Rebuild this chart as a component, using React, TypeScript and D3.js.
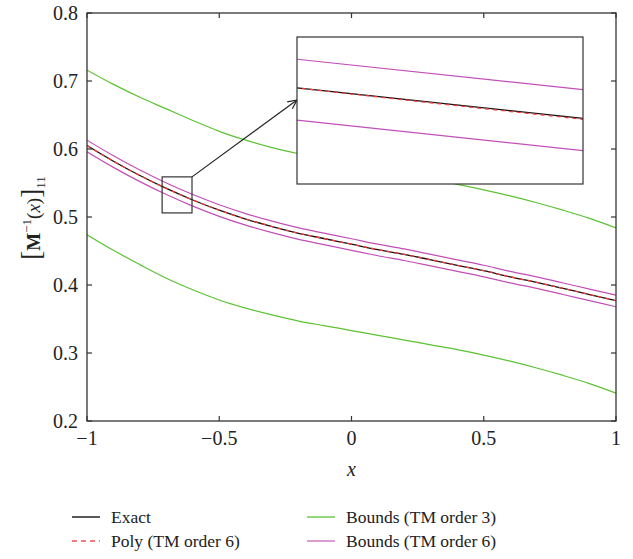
import React from "react";
import * as d3 from "d3";

const xs = [-1, -0.9, -0.8, -0.7, -0.6, -0.5, -0.4, -0.3, -0.2, -0.1, 0, 0.1, 0.2, 0.3, 0.4, 0.5, 0.6, 0.7, 0.8, 0.9, 1];
const exact = [0.605, 0.582, 0.561, 0.542, 0.525, 0.510, 0.497, 0.486, 0.476, 0.468, 0.460, 0.452, 0.445, 0.437, 0.429, 0.421, 0.412, 0.404, 0.395, 0.386, 0.377];
const poly6 = [0.605, 0.582, 0.561, 0.542, 0.525, 0.510, 0.497, 0.486, 0.476, 0.468, 0.460, 0.452, 0.445, 0.437, 0.429, 0.421, 0.412, 0.404, 0.395, 0.386, 0.377];
const tm3Upper = [0.716, 0.695, 0.676, 0.659, 0.642, 0.626, 0.613, 0.602, 0.593, 0.585, 0.577, 0.569, 0.562, 0.555, 0.548, 0.540, 0.531, 0.521, 0.510, 0.498, 0.484];
const tm3Lower = [0.474, 0.451, 0.430, 0.410, 0.393, 0.378, 0.366, 0.356, 0.347, 0.340, 0.333, 0.326, 0.319, 0.312, 0.305, 0.297, 0.288, 0.278, 0.267, 0.255, 0.241];
const tm6Upper = [0.613, 0.590, 0.569, 0.550, 0.533, 0.518, 0.505, 0.494, 0.484, 0.476, 0.468, 0.460, 0.453, 0.445, 0.437, 0.429, 0.420, 0.412, 0.403, 0.394, 0.385];
const tm6Lower = [0.596, 0.573, 0.552, 0.533, 0.516, 0.501, 0.488, 0.477, 0.467, 0.459, 0.451, 0.443, 0.436, 0.428, 0.420, 0.412, 0.403, 0.395, 0.386, 0.377, 0.368];

const xTicks = [-1, -0.5, 0, 0.5, 1];
const xTickLabels = ["\u22121", "\u22120.5", "0", "0.5", "1"];
const yTicks = [0.2, 0.3, 0.4, 0.5, 0.6, 0.7, 0.8];
const yTickLabels = ["0.2", "0.3", "0.4", "0.5", "0.6", "0.7", "0.8"];

// zoom box (data coords) and inset view domains
const boxX = [-0.716, -0.603];
const boxY = [0.506, 0.559];
const insetXDomain = [-0.70, -0.65];
const insetYDomain = [0.5152, 0.5562];

const legendItems = [
  { label: "Exact", color: "#000000", dash: "" },
  { label: "Poly (TM order 6)", color: "#f25050", dash: "5,4" },
  { label: "Bounds (TM order 3)", color: "#5cc233", dash: "" },
  { label: "Bounds (TM order 6)", color: "#c866bd", dash: "" },
];

const FONT = "'Liberation Serif', 'Times New Roman', serif";
const AX = "#333333";
const GREEN = "#5cc233";
const MAGENTA = "#c24fb8";
const RED = "#f23a3a";

export default function App() {
  const W = 633, H = 559;
  const L = 87, R = 616, T = 13, B = 421;
  const x = d3.scaleLinear().domain([-1, 1]).range([L, R]);
  const y = d3.scaleLinear().domain([0.2, 0.8]).range([B, T]);

  const iL = 297, iR = 583, iT = 37, iB = 184;
  const ix = d3.scaleLinear().domain(insetXDomain).range([iL, iR]);
  const iy = d3.scaleLinear().domain(insetYDomain).range([iB, iT]);

  const mk = (sx: any, sy: any) =>
    d3.line<number>()
      .x((_, i) => sx(xs[i]))
      .y((v) => sy(v))
      .curve(d3.curveMonotoneX);

  const mainLine = mk(x, y);
  const insetLine = mk(ix, iy);

  const series = [
    { data: tm3Upper, color: GREEN, dash: "", w: 1.2 },
    { data: tm3Lower, color: GREEN, dash: "", w: 1.2 },
    { data: tm6Upper, color: MAGENTA, dash: "", w: 1.2 },
    { data: tm6Lower, color: MAGENTA, dash: "", w: 1.2 },
    { data: exact, color: "#111111", dash: "", w: 1.3 },
    { data: poly6, color: RED, dash: "4,4", w: 1.3 },
  ];

  const tickLen = 5;
  const bx0 = x(boxX[0]), bx1 = x(boxX[1]);
  const by0 = y(boxY[1]), by1 = y(boxY[0]);

  const arrowEnd = [iL, 100];
  const arrowStart = [bx1, by0];
  const ang = Math.atan2(arrowEnd[1] - arrowStart[1], arrowEnd[0] - arrowStart[0]);
  const ah = 10, aw = 0.45;
  const p1 = [arrowEnd[0] - ah * Math.cos(ang - aw), arrowEnd[1] - ah * Math.sin(ang - aw)];
  const p2 = [arrowEnd[0] - ah * Math.cos(ang + aw), arrowEnd[1] - ah * Math.sin(ang + aw)];

  return (
    <svg width={W} height={H} style={{ position: "absolute", left: 0, top: 0, background: "#fff" }} fontFamily={FONT}>
      <defs>
        <clipPath id="mainClip"><rect x={L} y={T} width={R - L} height={B - T} /></clipPath>
        <clipPath id="insetClip"><rect x={iL} y={iT} width={iR - iL} height={iB - iT} /></clipPath>
      </defs>
      <rect width={W} height={H} fill="#fff" />

      <g clipPath="url(#mainClip)">
        {series.map((s, i) => (
          <path key={i} d={mainLine(s.data) || ""} fill="none" stroke={s.color} strokeWidth={s.w} strokeDasharray={s.dash} />
        ))}
      </g>

      {/* axes box */}
      <rect x={L} y={T} width={R - L} height={B - T} fill="none" stroke={AX} strokeWidth={1.3} />
      {xTicks.map((t, i) => (
        <g key={"xt" + i}>
          <line x1={x(t)} x2={x(t)} y1={B} y2={B - tickLen} stroke={AX} strokeWidth={1.2} />
          <line x1={x(t)} x2={x(t)} y1={T} y2={T + tickLen} stroke={AX} strokeWidth={1.2} />
          <text x={x(t)} y={B + 24} textAnchor="middle" fontSize={20} fill="#222">{xTickLabels[i]}</text>
        </g>
      ))}
      {yTicks.map((t, i) => (
        <g key={"yt" + i}>
          <line x1={L} x2={L + tickLen} y1={y(t)} y2={y(t)} stroke={AX} strokeWidth={1.2} />
          <line x1={R} x2={R - tickLen} y1={y(t)} y2={y(t)} stroke={AX} strokeWidth={1.2} />
          <text x={L - 9} y={y(t) + 6.5} textAnchor="end" fontSize={20} fill="#222">{yTickLabels[i]}</text>
        </g>
      ))}

      {/* zoom box */}
      <rect x={bx0} y={by0} width={bx1 - bx0} height={by1 - by0} fill="none" stroke={AX} strokeWidth={1.2} />
      {/* arrow */}
      <line x1={arrowStart[0]} y1={arrowStart[1]} x2={arrowEnd[0]} y2={arrowEnd[1]} stroke="#222" strokeWidth={1.2} />
      <polyline points={`${p1[0]},${p1[1]} ${arrowEnd[0]},${arrowEnd[1]} ${p2[0]},${p2[1]}`} fill="none" stroke="#222" strokeWidth={1.2} />

      {/* inset */}
      <rect x={iL} y={iT} width={iR - iL} height={iB - iT} fill="#fff" />
      <g clipPath="url(#insetClip)">
        {series.map((s, i) => (
          <path key={"in" + i} d={insetLine(s.data) || ""} fill="none" stroke={s.color} strokeWidth={s.w} strokeDasharray={s.dash} />
        ))}
      </g>
      <rect x={iL} y={iT} width={iR - iL} height={iB - iT} fill="none" stroke={AX} strokeWidth={1.2} />

      {/* axis labels */}
      <text x={(L + R) / 2} y={476} textAnchor="middle" fontSize={20} fontStyle="italic" fill="#222">x</text>
      <g transform={`translate(40, 218) rotate(-90)`}>
        <text x={0} y={0} textAnchor="middle" fontSize={19} fill="#222">
          <tspan fontSize={27}>[</tspan>
          <tspan fontWeight="bold">M</tspan>
          <tspan fontSize={13} dy={-9}>{"\u22121"}</tspan>
          <tspan dy={9}>(</tspan>
          <tspan fontStyle="italic">x</tspan>
          <tspan>)</tspan>
          <tspan fontSize={27}>]</tspan>
          <tspan fontSize={13} dy={5}>11</tspan>
        </text>
      </g>

      {/* legend */}
      {legendItems.map((it, i) => {
        const col = Math.floor(i / 2), row = i % 2;
        const lx = col === 0 ? 72 : 307;
        const ly = row === 0 ? 517 : 541;
        return (
          <g key={"lg" + i}>
            <line x1={lx} x2={lx + 28} y1={ly} y2={ly} stroke={it.color} strokeWidth={1.3} strokeDasharray={it.dash} />
            <text x={lx + 39} y={ly + 6} fontSize={17.5} fill="#222">{it.label}</text>
          </g>
        );
      })}
    </svg>
  );
}
